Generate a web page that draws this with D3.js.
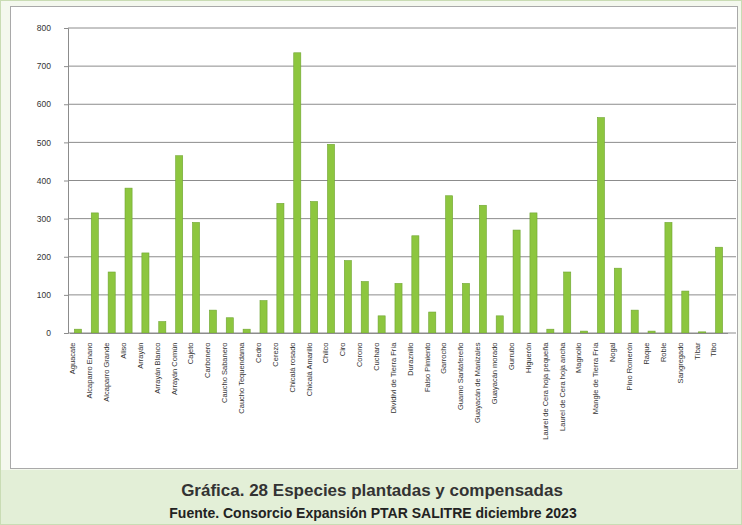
<!DOCTYPE html>
<html><head><meta charset="utf-8">
<script src="https://cdn.jsdelivr.net/npm/d3@7"></script>
<style>
body{margin:0;background:#fff;}
svg{display:block;font-family:"Liberation Sans",Arial,sans-serif;}
</style></head>
<body>
<svg id="c" width="742" height="525"></svg>
<script>
const categories = ["Aguacate","Alcaparro Enano","Alcaparro Grande","Aliso","Arrayán","Arrayán Blanco","Arrayán Común","Cajeto","Carbonero","Caucho Sabanero","Caucho Tequendama","Cedro","Cerezo","Chicalá rosado","Chicalá Amarillo","Chilco","Ciro","Corono","Cucharo","Dividivi de Tierra Fría","Duraznillo","Falso Pimiento","Garrocho","Guamo Santafereño","Guayacán de Manizales","Guayacán morado","Gurrubo","Higuerón","Laurel de Cera hoja pequeña","Laurel de Cera hoja ancha","Magnolio","Mangle de Tierra Fría","Nogal","Pino Romerón","Raque","Roble","Sangregado","Tíbar","Tibo"];
const values = [10,315,160,380,210,30,465,290,60,40,10,85,340,735,345,495,190,135,45,130,255,55,360,130,335,45,270,315,10,160,5,565,170,60,5,290,110,3,225];
const yTicks = [0,100,200,300,400,500,600,700,800];
const caption1 = "Gráfica. 28 Especies plantadas y compensadas";
const caption2 = "Fuente. Consorcio Expansión PTAR SALITRE diciembre 2023";

const svg = d3.select("#c");
// outer frame
svg.append("rect").attr("x",0.5).attr("y",0.5).attr("width",741).attr("height",524).attr("fill","#f4f8ee").attr("stroke","#c9dcb4");
svg.append("rect").attr("x",10.5).attr("y",6.5).attr("width",727).attr("height",462).attr("fill","#fff").attr("stroke","#a9a9a9");
// caption band
svg.append("rect").attr("x",1).attr("y",470).attr("width",740).attr("height",54).attr("fill","#e3efd7");

const x = d3.scaleBand().domain(categories).range([69.5,727.5]).paddingInner(0.58).paddingOuter(0.29);
const y = d3.scaleLinear().domain([0,800]).range([333,28]);

// gridlines
svg.append("g").selectAll("line").data(yTicks).join("line")
  .attr("x1",68).attr("x2",736).attr("y1",d=>y(d)).attr("y2",d=>y(d))
  .attr("stroke","#8c8c8c").attr("stroke-width",1);
// y axis
const ya = svg.append("g").attr("transform","translate(68,0)").call(d3.axisLeft(y).tickValues(yTicks).tickSize(4).tickPadding(13));
ya.select(".domain").attr("stroke","#8c8c8c");
ya.selectAll(".tick line").attr("stroke","#8c8c8c");
ya.selectAll("text").attr("font-size",8.5).attr("fill","#333");

// bars
svg.append("g").selectAll("rect").data(values).join("rect")
  .attr("x",(d,i)=>x(categories[i])).attr("width",x.bandwidth())
  .attr("y",d=>y(d)).attr("height",d=>y(0)-y(d))
  .attr("fill","#8dc63f").attr("stroke","#6fa531").attr("stroke-width",0.6);

// x axis
const xa = svg.append("g").attr("transform","translate(0,333)").call(d3.axisBottom(x).tickSize(0).tickPadding(6));
xa.select(".domain").attr("stroke","#8c8c8c");
xa.selectAll("text").attr("font-size",7.5).attr("fill","#333")
  .attr("transform","rotate(-90)").attr("text-anchor","end").attr("dx","-0.6em").attr("dy","-0.35em").attr("y",0).attr("x",-5);

svg.append("text").attr("x",372).attr("y",496).attr("text-anchor","middle").attr("font-size",17).attr("font-weight","bold").attr("fill","#333").text(caption1);
svg.append("text").attr("x",373).attr("y",518).attr("text-anchor","middle").attr("font-size",14).attr("font-weight","bold").attr("fill","#222").text(caption2);
</script>
</body></html>
